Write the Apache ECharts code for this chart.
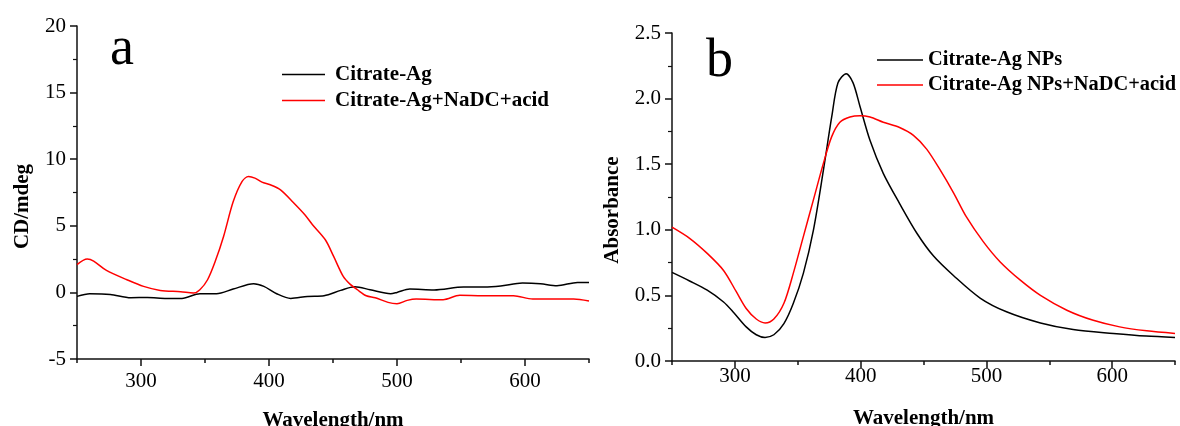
<!DOCTYPE html>
<html>
<head>
<meta charset="utf-8">
<script src="https://cdn.jsdelivr.net/npm/echarts@6/dist/echarts.min.js"></script>
<style>html,body{margin:0;padding:0;background:#fff}#c{width:1180px;height:426px}</style>
</head>
<body>
<div id="c"></div>
<script>
// Panel a: CD spectra
const aBlackNm = [250,260,276,292,305,320,332,346,359,372,388,396,406,417,430,443,456,467,479,495,500,510,529,552,568,581,598,612,625,641,650];
const aBlackCD = [-0.3,-0.1,-0.15,-0.4,-0.38,-0.45,-0.45,-0.1,-0.1,0.25,0.65,0.45,-0.1,-0.45,-0.3,-0.25,0.15,0.42,0.2,-0.1,0.0,0.25,0.18,0.4,0.4,0.48,0.7,0.65,0.5,0.75,0.75];
const aRedNm = [250,258,263,273,289,302,315,331,341,346,352,358,364.5,372,379,384,389,394.5,401,409,419,428,434,444,450.5,458,463.5,469,476,483,493,500,508,515,536,549,567,591,606,625,638,650];
const aRedCD = [2.08,2.5,2.35,1.65,0.95,0.45,0.15,0.05,-0.05,0.2,0.95,2.33,4.2,6.8,8.33,8.7,8.58,8.28,8.08,7.7,6.75,5.83,5.08,3.95,2.7,1.2,0.6,0.2,-0.25,-0.4,-0.75,-0.85,-0.6,-0.5,-0.55,-0.22,-0.25,-0.25,-0.5,-0.5,-0.5,-0.65];
// Panel b: UV-vis absorbance
const bBlackNm = [250,264,278,291,299,309,317,324,331,339,346.5,354.5,362.5,370.5,377,382,388.5,394,399.5,407.5,418,431,445,458,474,495,516,543,569,601,627,650];
const bBlackAbs = [0.675,0.61,0.54,0.45,0.37,0.26,0.2,0.18,0.2,0.285,0.44,0.67,1.0,1.46,1.86,2.12,2.19,2.12,1.94,1.68,1.43,1.2,0.97,0.8,0.65,0.48,0.375,0.29,0.24,0.21,0.19,0.18];
const bRedNm = [250,264,278,291,301,309,317,324,331,339,346.5,354.5,362.5,370.5,377,383.5,391.5,399.5,407.5,418,431,442,452.5,463,474,484,497.5,511,527,543,564,585,606,627.5,650];
const bRedAbs = [1.02,0.935,0.82,0.69,0.53,0.4,0.32,0.29,0.32,0.44,0.67,0.95,1.23,1.51,1.71,1.82,1.86,1.87,1.86,1.82,1.78,1.72,1.615,1.46,1.28,1.1,0.91,0.755,0.616,0.5,0.387,0.31,0.26,0.23,0.21];

const aYTicks = {min: -5, max: 20, interval: 5};
const bYTicks = {min: 0, max: 2.5, interval: 0.5};
const xTicks = {min: 250, max: 650, interval: 50};
const xMajorTicks = [300, 400, 500, 600];

const zip = (xs, ys) => xs.map((x, i) => [x, ys[i]]);
const FONT = 'Liberation Serif';
const axisColor = '#111';

function xAxisCfg(gridIndex, gap, margin) {
  return {
    type: 'value', gridIndex, position: 'bottom', min: xTicks.min, max: xTicks.max, interval: xTicks.interval,
    name: 'Wavelength/nm', nameLocation: 'middle', nameGap: gap,
    nameTextStyle: {fontFamily: FONT, fontWeight: 'bold', fontSize: 21, color: '#000'},
    axisLine: {show: true, onZero: false, lineStyle: {color: axisColor, width: 1.5}},
    axisTick: {show: true, length: 4, lineStyle: {color: axisColor, width: 1.5}},
    axisLabel: {fontFamily: FONT, fontSize: 21, color: '#000', margin,
      formatter: v => (v % 100 === 0 ? String(v) : '')},
    splitLine: {show: false}
  };
}
function xMajorCfg(gridIndex) {
  return {
    type: 'value', gridIndex, position: 'bottom', offset: 0, min: xTicks.min, max: xTicks.max,
    axisLine: {show: false, onZero: false},
    axisTick: {show: true, length: 7, customValues: xMajorTicks, lineStyle: {color: axisColor, width: 1.5}},
    axisLabel: {show: false},
    splitLine: {show: false}
  };
}
function yAxisCfg(gridIndex, t, name, gap, pad, fmt) {
  return {
    type: 'value', gridIndex, min: t.min, max: t.max, interval: t.interval,
    name, nameLocation: 'middle', nameGap: gap, nameRotate: 90,
    nameTextStyle: {fontFamily: FONT, fontWeight: 'bold', fontSize: 21, color: '#000', padding: pad},
    axisLine: {show: true, onZero: false, lineStyle: {color: axisColor, width: 1.5}},
    axisTick: {show: true, length: 7, lineStyle: {color: axisColor, width: 1.5}},
    minorTick: {show: true, splitNumber: 2, length: 4, lineStyle: {color: axisColor, width: 1.2}},
    axisLabel: {fontFamily: FONT, fontSize: 21, color: '#000', margin: 11, formatter: fmt},
    splitLine: {show: false}
  };
}
const lineSeries = (name, xi, data, color) => ({
  name, type: 'line', xAxisIndex: xi, yAxisIndex: xi, data, smooth: 0.3,
  symbol: 'none', lineStyle: {color, width: 1.5}, itemStyle: {color}, animation: false
});

const chart = echarts.init(document.getElementById('c'), null, {renderer: 'canvas'});
chart.setOption({
  backgroundColor: '#fff',
  animation: false,
  grid: [
    {left: 77, right: 591, top: 26, bottom: 67, outerBoundsMode: 'none', containLabel: false},
    {left: 672, right: 5, top: 33, bottom: 65, outerBoundsMode: 'none', containLabel: false}
  ],
  xAxis: [xAxisCfg(0, 51, 12), xAxisCfg(1, 47, 5), xMajorCfg(0), xMajorCfg(1)],
  yAxis: [
    yAxisCfg(0, aYTicks, 'CD/mdeg', 44, [0, 28, 0, 0], v => String(v)),
    yAxisCfg(1, bYTicks, 'Absorbance', 49, [0, 26, 0, 0], v => v.toFixed(1))
  ],
  legend: [
    {data: ['Citrate-Ag', 'Citrate-Ag+NaDC+acid'], orient: 'vertical', left: 282, top: 64, padding: 0,
     icon: 'rect', itemWidth: 43, itemHeight: 1.5, itemGap: 5,
     textStyle: {fontFamily: FONT, fontWeight: 'bold', fontSize: 21, color: '#000', padding: [0, 0, 0, 5]}},
    {data: ['Citrate-Ag NPs', 'Citrate-Ag NPs+NaDC+acid'], orient: 'vertical', left: 877, top: 50, padding: 0,
     icon: 'rect', itemWidth: 46, itemHeight: 1.5, itemGap: 5,
     textStyle: {fontFamily: FONT, fontWeight: 'bold', fontSize: 20.4, color: '#000'}}
  ],
  graphic: [
    {type: 'text', left: 110, top: 23, style: {text: 'a', font: '54px "Liberation Serif"', fill: '#000'}},
    {type: 'text', left: 706, top: 35, style: {text: 'b', font: '54px "Liberation Serif"', fill: '#000'}}
  ],
  series: [
    lineSeries('Citrate-Ag', 0, zip(aBlackNm, aBlackCD), '#000000'),
    lineSeries('Citrate-Ag+NaDC+acid', 0, zip(aRedNm, aRedCD), '#ff0000'),
    lineSeries('Citrate-Ag NPs', 1, zip(bBlackNm, bBlackAbs), '#000000'),
    lineSeries('Citrate-Ag NPs+NaDC+acid', 1, zip(bRedNm, bRedAbs), '#ff0000')
  ]
});
</script>
</body>
</html>
